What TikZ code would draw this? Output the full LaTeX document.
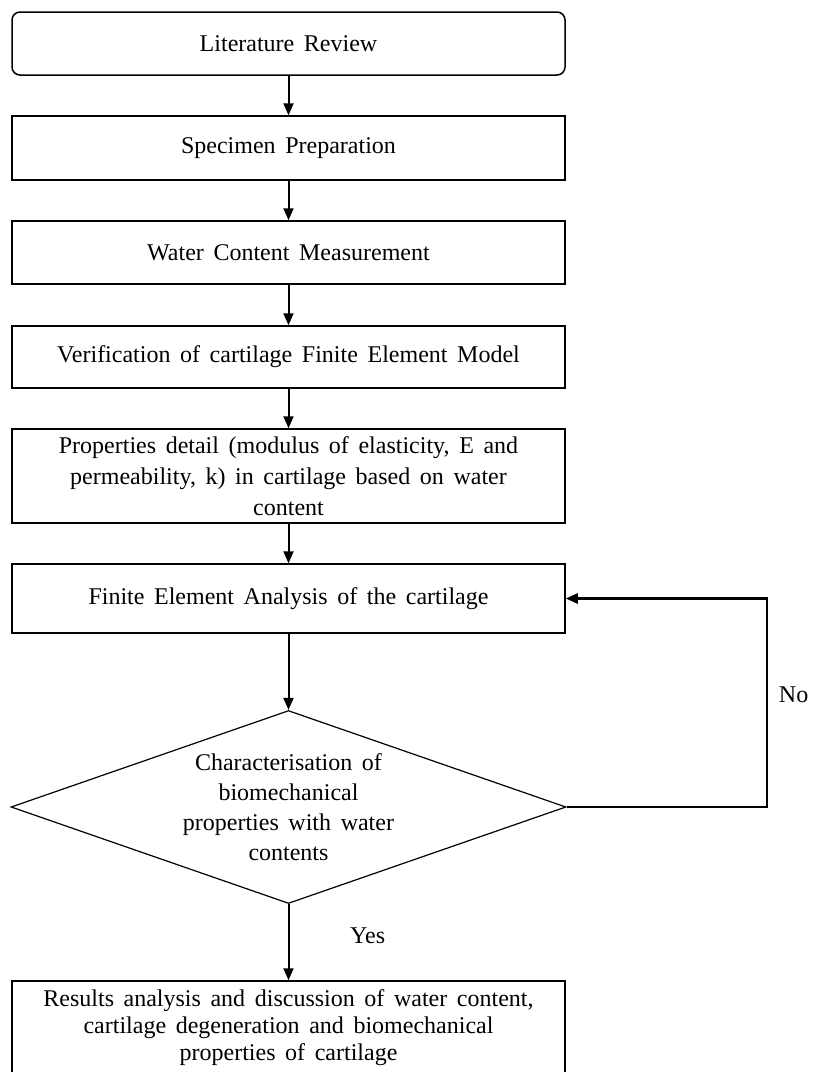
\documentclass[tikz,border=0pt]{standalone}
\usepackage{fontspec}
\setmainfont{Liberation Serif}
\usetikzlibrary{positioning}
\usetikzlibrary{shapes.geometric, arrows.meta}
\newcommand{\flowfont}[1]{\fontsize{12}{#1}\selectfont\spaceskip 0.4em\relax}

\begin{document}
\begin{tikzpicture}[x=0.5pt,y=-0.5pt,
stepbox/.style={rectangle,draw=black,line width=0.75pt,minimum width=276.5pt,inner sep=0pt,align=center,font={\flowfont{15}}},
decbox/.style={diamond,draw=black,line width=0.6pt,aspect=2.88,inner sep=0pt,minimum width=277.5pt,minimum height=96.5pt,align=center,font={\flowfont{15}}},
flow/.style={-{Triangle[length=6pt,width=5pt]},line width=1pt,black},
lbl/.style={font={\flowfont{15}},text=black}]
\useasboundingbox (0,0) rectangle (826,1072);

\node[stepbox,rounded corners=4pt,minimum height=31.5pt] (lit) at (288.5,43.5) {Literature Review};
\node[stepbox,minimum height=32pt] (spec) at (288.5,148) {Specimen Preparation};
\node[stepbox,minimum height=31.5pt] (water) at (288.5,252.5) {Water Content Measurement};
\node[stepbox,minimum height=31pt] (verif) at (288.5,357) {Verification of cartilage Finite Element Model};
\node[stepbox,minimum height=47pt,font={\flowfont{15.5}}] (props) at (288.5,476) {Properties detail (modulus of elasticity, E and\\permeability, k) in cartilage based on water\\content};
\node[stepbox,minimum height=34.5pt] (fea) at (288.5,598.5) {Finite Element Analysis of the cartilage};
\node[decbox] (dec) at (288.5,807) {Characterisation of\\biomechanical\\properties with water\\contents};
\node[stepbox,minimum height=47pt,font={\flowfont{13.5}}] (res) at (288.5,1028) {Results analysis and discussion of water content,\\cartilage degeneration and biomechanical\\properties of cartilage};
\coordinate (loopc) at (767,807);

\draw[flow] (lit) -- (spec);
\draw[flow] (spec) -- (water);
\draw[flow] (water) -- (verif);
\draw[flow] (verif) -- (props);
\draw[flow] (props) -- (fea);
\draw[flow] (fea) -- (dec);
\draw[flow] (dec.south) -- node[pos=0.42,right=27pt,lbl] {Yes} (res.north);
\draw[flow,line width=1.3pt] (dec.east) -- (loopc) |- node[pos=0.27,right=2pt,lbl] {No} (fea.east);

\end{tikzpicture}
\end{document}
